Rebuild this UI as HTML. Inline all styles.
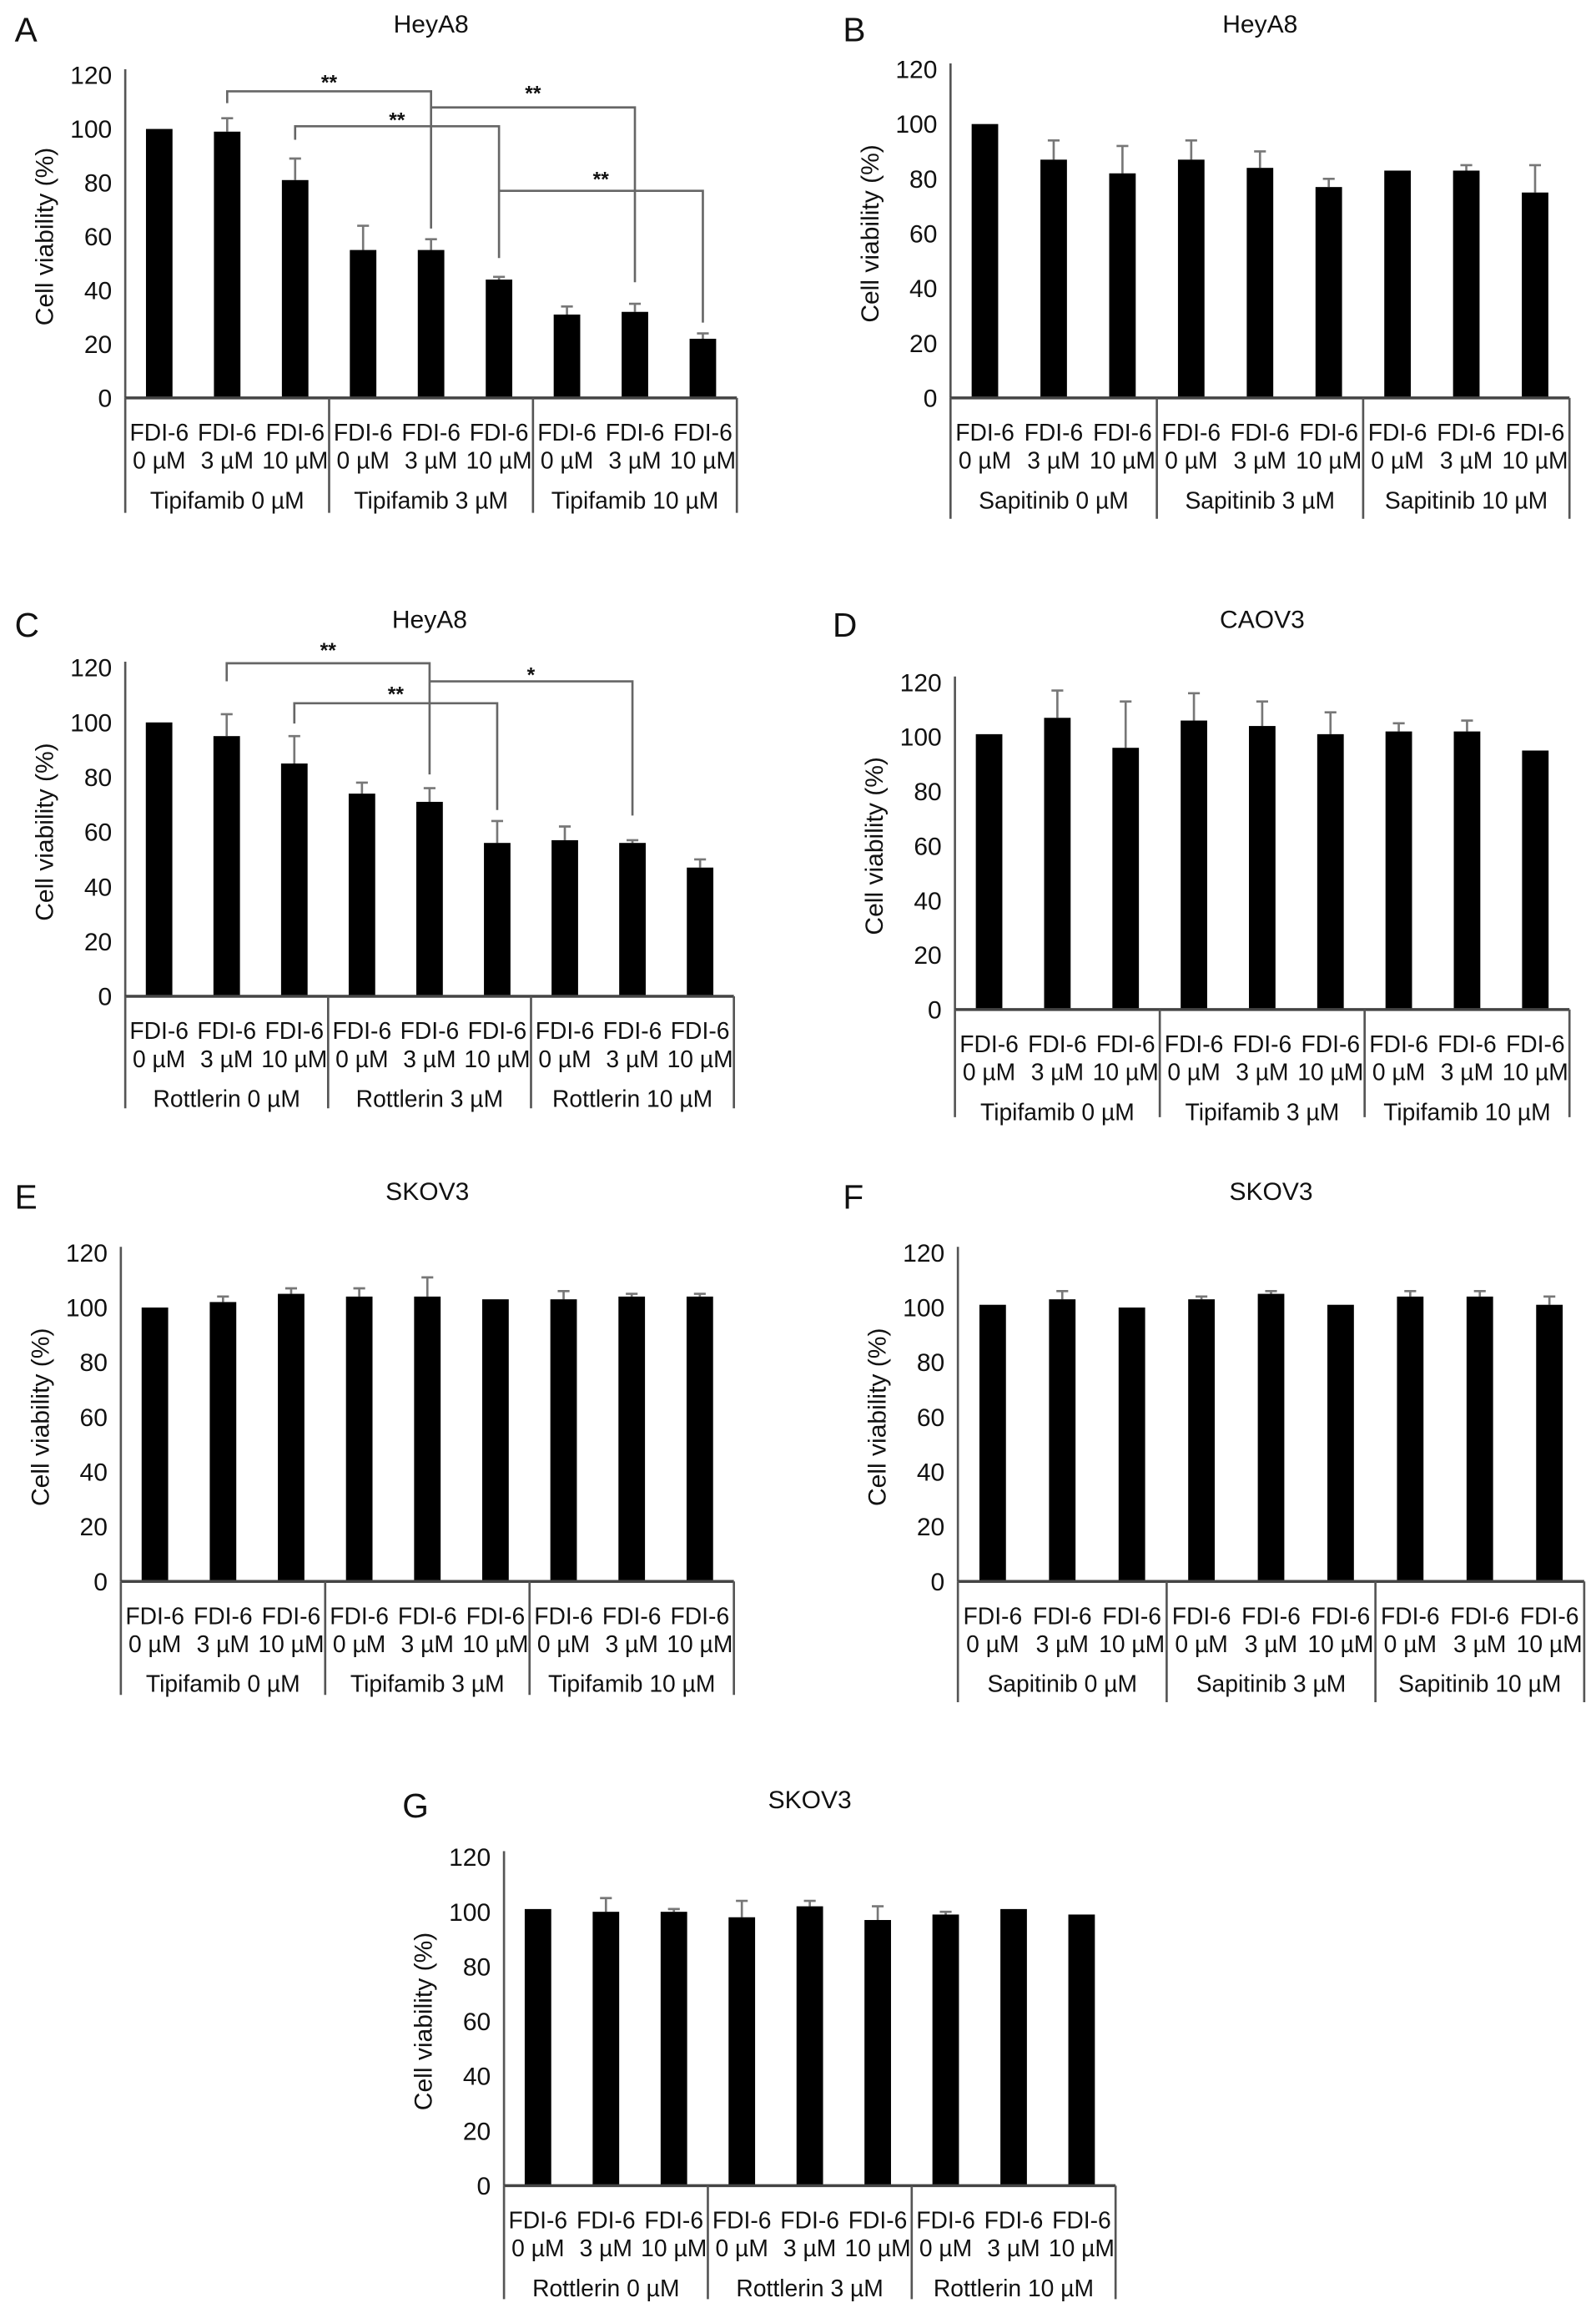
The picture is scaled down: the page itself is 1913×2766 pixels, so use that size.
<!DOCTYPE html>
<html><head><meta charset="utf-8"><style>
html,body{margin:0;padding:0;background:#fff;}
svg{display:block;}
text{font-family:"Liberation Sans Narrow","Liberation Sans",sans-serif;fill:#111;}
</style></head><body>
<svg id="fig" width="1913" height="2766" viewBox="0 0 1083 1566" preserveAspectRatio="none" xmlns="http://www.w3.org/2000/svg"></svg>
<script>
const yTicks = [0,20,40,60,80,100,120];
const fdiLabels = ["0 \u00b5M","3 \u00b5M","10 \u00b5M"];
const drugDoses = ["0 \u00b5M","3 \u00b5M","10 \u00b5M"];
const valsA = [100,99,81,55,55,44,31,32,22];
const errA  = [0,5,8,9,4,1,3,3,2];
const valsB = [100,87,82,87,84,77,83,83,75];
const errB  = [0,7,10,7,6,3,0,2,10];
const valsC = [100,95,85,74,71,56,57,56,47];
const errC  = [0,8,10,4,5,8,5,1,3];
const valsD = [101,107,96,106,104,101,102,102,95];
const errD  = [0,10,17,10,9,8,3,4,0];
const valsE = [100,102,105,104,104,103,103,104,104];
const errE  = [0,2,2,3,7,0,3,1,1];
const valsF = [101,103,100,103,105,101,104,104,101];
const errF  = [0,3,0,1,1,0,2,2,3];
const valsG = [101,100,100,98,102,97,99,101,99];
const errG  = [0,5,1,6,2,5,1,0,0];
// brackets: [fromBar, toBar, level, leftDrop(or null), rightDrop, starLabel, starValue]
const bracketsA = [[1,4,114,109.6,63,"**",119],[2,5,101,96,52,"**",105],[4,7,108,null,43,"**",115],[5,8,77,null,28,"**",83]];
const bracketsC = [[1,4,121.6,115,81,"**",128],[2,5,107,99.6,68,"**",112],[4,7,115,null,66,"*",119]];

const panels = [
 {id:"a",letter:"A",lx:10,ly:28,title:"HeyA8",ax:85,y0:270,y120:51,right:500,bottom:348,drug:"Tipifamib",vals:valsA,err:errA,br:bracketsA},
 {id:"b",letter:"B",lx:572,ly:28,title:"HeyA8",ax:645,y0:270,y120:47,right:1065,bottom:352,drug:"Sapitinib",vals:valsB,err:errB,br:[]},
 {id:"c",letter:"C",lx:10,ly:432,title:"HeyA8",ax:85,y0:676,y120:453,right:498,bottom:752,drug:"Rottlerin",vals:valsC,err:errC,br:bracketsC},
 {id:"d",letter:"D",lx:565,ly:432,title:"CAOV3",ax:648,y0:685,y120:463,right:1065,bottom:758,drug:"Tipifamib",vals:valsD,err:errD,br:[]},
 {id:"e",letter:"E",lx:10,ly:820,title:"SKOV3",ax:82,y0:1073,y120:850,right:498,bottom:1150,drug:"Tipifamib",vals:valsE,err:errE,br:[]},
 {id:"f",letter:"F",lx:572,ly:820,title:"SKOV3",ax:650,y0:1073,y120:850,right:1075,bottom:1155,drug:"Sapitinib",vals:valsF,err:errF,br:[]},
 {id:"g",letter:"G",lx:273,ly:1233,title:"SKOV3",ax:342,y0:1483,y120:1260,right:757,bottom:1560,drug:"Rottlerin",vals:valsG,err:errG,br:[]}
];
const NS="http://www.w3.org/2000/svg";
const svg=document.getElementById('fig');
function mk(tag,attrs,parent,txt){const e=document.createElementNS(NS,tag);for(const k in attrs)e.setAttribute(k,attrs[k]);if(txt!==undefined)e.textContent=txt;parent.appendChild(e);return e;}
panels.forEach(p=>{
 const g=mk('g',{},svg);
 
 
 const slot=(p.right-p.ax)/9;
 const yS=v=>p.y0-(v/120)*(p.y0-p.y120);
 const xS=i=>p.ax+(i+0.5)*slot;
 const L=mk('text',{x:p.lx,y:p.ly,'font-size':23},g,p.letter);
 
 
 const T=mk('text',{x:(p.ax+p.right)/2,y:p.ly-6,'font-size':17,'text-anchor':'middle'},g,p.title);
 
 
 const cy=(p.y0+p.y120)/2;
 const YT=mk('text',{x:0,y:0,'font-size':17,'text-anchor':'middle',transform:`translate(${p.ax-49},${cy}) rotate(-90)`},g,'Cell viability (%)');
 
 
 yTicks.forEach(t=>{
  const e=mk('text',{x:p.ax-9,y:yS(t)+6,'font-size':17,'text-anchor':'end'},g,String(t));
  
  
 });
 const ya=mk('line',{x1:p.ax,y1:p.y120-4,x2:p.ax,y2:p.y0,stroke:'#555','stroke-width':1.5},g);
 
 
 p.vals.forEach((v,i)=>{
  const x=xS(i);
  const e=p.err[i];
  if(e>0){
   const el=mk('path',{d:`M${x},${yS(v)} V${yS(v+e)} M${x-4},${yS(v+e)} H${x+4}`,stroke:'#777','stroke-width':1.5,fill:'none'},g);
   
   
  }
  const r=mk('rect',{x:x-9,y:yS(v),width:18,height:p.y0-yS(v),fill:'#000'},g);
  
  
  const t1=mk('text',{x:x,y:p.y0+29,'font-size':16,'text-anchor':'middle'},g,'FDI-6');
  
  
  const t2=mk('text',{x:x,y:p.y0+48,'font-size':16,'text-anchor':'middle'},g,fdiLabels[i%3]);
  
  
 });
 const xa=mk('line',{x1:p.ax,y1:p.y0,x2:p.right,y2:p.y0,stroke:'#444','stroke-width':2},g);
 
 
 for(let k=0;k<=3;k++){
  const sx=p.ax+k*3*slot;
  const s=mk('line',{x1:sx,y1:p.y0,x2:sx,y2:p.bottom,stroke:'#555','stroke-width':1.5},g);
  
  
 }
 drugDoses.forEach((d,k)=>{
  const e=mk('text',{x:p.ax+(k*3+1.5)*slot,y:p.y0+75,'font-size':16,'text-anchor':'middle'},g,p.drug+' '+d);
  
  
 });
 p.br.forEach(b=>{
  const x1=xS(b[0]),x2=xS(b[1]);
  let d=`M${x1},${b[3]===null?yS(b[2]):yS(b[3])} V${yS(b[2])} H${x2} V${yS(b[4])}`;
  const e=mk('path',{d:d,stroke:'#666','stroke-width':1.5,fill:'none'},g);
  
  
  const s=mk('text',{x:(x1+x2)/2,y:yS(b[6])+8,'font-size':14,'text-anchor':'middle','font-weight':'bold'},g,b[5]);
  
  
 });
});
</script>
</body></html>
